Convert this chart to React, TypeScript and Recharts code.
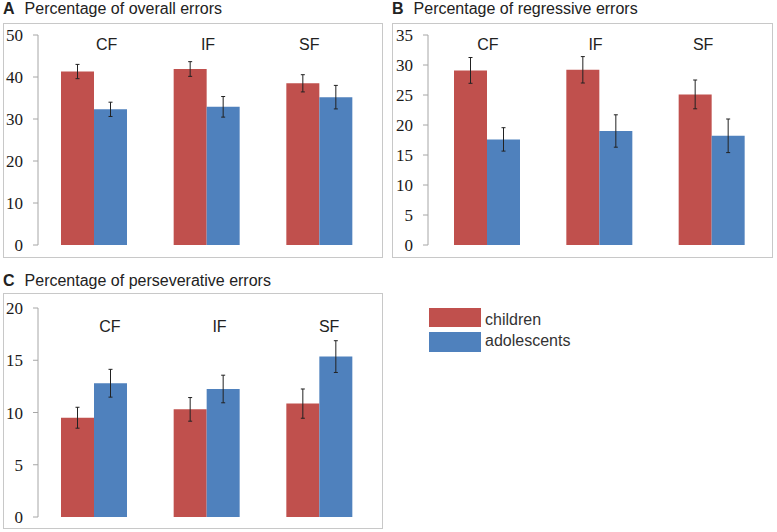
import { BarChart, Bar, XAxis, YAxis, ErrorBar } from 'recharts';

const CATEGORIES = ['CF', 'IF', 'SF'];
const SERIES = ['children', 'adolescents'];

const OVERALL_CHILDREN = [41.3, 41.9, 38.5];
const OVERALL_CHILDREN_ERR = [1.7, 1.75, 2.05];
const OVERALL_ADOLESCENTS = [32.3, 32.9, 35.2];
const OVERALL_ADOLESCENTS_ERR = [1.7, 2.45, 2.8];
const OVERALL_TICKS = [0, 10, 20, 30, 40, 50];

const REGRESSIVE_CHILDREN = [29.1, 29.2, 25.1];
const REGRESSIVE_CHILDREN_ERR = [2.15, 2.2, 2.4];
const REGRESSIVE_ADOLESCENTS = [17.6, 19.0, 18.2];
const REGRESSIVE_ADOLESCENTS_ERR = [1.95, 2.7, 2.8];
const REGRESSIVE_TICKS = [0, 5, 10, 15, 20, 25, 30, 35];

const PERSEV_CHILDREN = [9.5, 10.3, 10.85];
const PERSEV_CHILDREN_ERR = [1.0, 1.13, 1.4];
const PERSEV_ADOLESCENTS = [12.8, 12.25, 15.35];
const PERSEV_ADOLESCENTS_ERR = [1.33, 1.32, 1.52];
const PERSEV_TICKS = [0, 5, 10, 15, 20];

const COLORS = ['#c0504d', '#4f81bd'];
const SANS = '"Liberation Sans", Arial, sans-serif';
const SERIF = '"Liberation Serif", "Times New Roman", serif';
const AXIS_GRAY = '#a6a6a6';

function buildRows(a: number[], aErr: number[], b: number[], bErr: number[]) {
  return CATEGORIES.map((cat, i) => ({
    cat,
    children: a[i],
    childrenErr: aErr[i],
    adolescents: b[i],
    adolescentsErr: bErr[i],
  }));
}

interface PanelProps {
  letter: string;
  title: string;
  rows: ReturnType<typeof buildRows>;
  ticks: number[];
  left: number;
  top: number;
  boxTop: number;
  width: number;
  height: number;
  yWidth: number;
  margin: { top: number; right: number; bottom: number; left: number };
  padLeft: number;
  labelPad: { left: number; right: number };
  labelDy: number;
}

function Panel(p: PanelProps) {
  return (
    <>
      <div
        style={{
          position: 'absolute',
          left: p.left,
          top: p.top,
          fontFamily: SANS,
          fontSize: 16,
          color: '#222',
          whiteSpace: 'nowrap',
        }}
      >
        <b>{p.letter}</b>
        <span style={{ marginLeft: 10 }}>{p.title}</span>
      </div>
      <div
        style={{
          position: 'absolute',
          left: p.left,
          top: p.boxTop,
          width: p.width,
          height: p.height,
          boxSizing: 'border-box',
          border: '1px solid #c8c8c8',
        }}
      >
        <BarChart
          width={p.width - 2}
          height={p.height - 2}
          data={p.rows}
          margin={p.margin}
          barGap={0}
          barSize={33}
        >
          <XAxis dataKey="cat" hide padding={{ left: p.padLeft, right: 0 }} />
          <XAxis
            xAxisId="lab"
            dataKey="cat"
            orientation="top"
            height={1}
            axisLine={false}
            tickLine={false}
            tickSize={0}
            tickMargin={0}
            interval={0}
            padding={p.labelPad}
            tick={(t: any) => (
              <text
                x={t.x}
                y={t.y + p.labelDy}
                textAnchor="middle"
                fontFamily={SANS}
                fontSize={16}
                fill="#222"
              >
                {t.payload.value}
              </text>
            )}
          />
          <YAxis
            type="number"
            width={p.yWidth}
            domain={[0, p.ticks[p.ticks.length - 1]]}
            ticks={p.ticks}
            interval={0}
            axisLine={{ stroke: AXIS_GRAY }}
            tickLine={{ stroke: AXIS_GRAY }}
            tickSize={5}
            tickMargin={10}
            tick={{ fontFamily: SERIF, fontSize: 17, fill: '#1a1a1a' }}
          />
          {SERIES.map((s, i) => (
            <Bar key={s} dataKey={s} fill={COLORS[i]} isAnimationActive={false}>
              <ErrorBar
                dataKey={`${s}Err`}
                direction="y"
                width={2}
                stroke="#222"
                strokeWidth={1}
                isAnimationActive={false}
              />
            </Bar>
          ))}
        </BarChart>
      </div>
    </>
  );
}

export default function App() {
  const overall = buildRows(OVERALL_CHILDREN, OVERALL_CHILDREN_ERR, OVERALL_ADOLESCENTS, OVERALL_ADOLESCENTS_ERR);
  const regressive = buildRows(
    REGRESSIVE_CHILDREN,
    REGRESSIVE_CHILDREN_ERR,
    REGRESSIVE_ADOLESCENTS,
    REGRESSIVE_ADOLESCENTS_ERR
  );
  const persev = buildRows(PERSEV_CHILDREN, PERSEV_CHILDREN_ERR, PERSEV_ADOLESCENTS, PERSEV_ADOLESCENTS_ERR);

  return (
    <div style={{ position: 'absolute', left: 0, top: 0, width: 777, height: 532, background: '#fff' }}>
      <Panel
        letter="A"
        title="Percentage of overall errors"
        rows={overall}
        ticks={OVERALL_TICKS}
        left={3}
        top={0}
        boxTop={23}
        width={380}
        height={235}
        yWidth={34}
        margin={{ top: 10, right: 6, bottom: 12, left: 0 }}
        padLeft={0}
        labelPad={{ left: 18, right: 16 }}
        labelDy={15}
      />
      <Panel
        letter="B"
        title="Percentage of regressive errors"
        rows={regressive}
        ticks={REGRESSIVE_TICKS}
        left={392}
        top={0}
        boxTop={23}
        width={381}
        height={235}
        yWidth={35}
        margin={{ top: 10, right: 4, bottom: 12, left: 0 }}
        padLeft={3}
        labelPad={{ left: 6, right: 11 }}
        labelDy={15}
      />
      <Panel
        letter="C"
        title="Percentage of perseverative errors"
        rows={persev}
        ticks={PERSEV_TICKS}
        left={3}
        top={272}
        boxTop={293}
        width={380}
        height={236}
        yWidth={34}
        margin={{ top: 13, right: 6, bottom: 11, left: 0 }}
        padLeft={0}
        labelPad={{ left: 17, right: -8 }}
        labelDy={24}
      />
      {SERIES.map((s, i) => (
        <div key={s}>
          <div
            style={{
              position: 'absolute',
              left: 429,
              top: 308 + i * 24,
              width: 52,
              height: 19 + i,
              background: COLORS[i],
            }}
          />
          <div
            style={{
              position: 'absolute',
              left: 485,
              top: 311 + i * 21,
              fontFamily: SANS,
              fontSize: 16,
              color: '#333',
            }}
          >
            {s}
          </div>
        </div>
      ))}
    </div>
  );
}
